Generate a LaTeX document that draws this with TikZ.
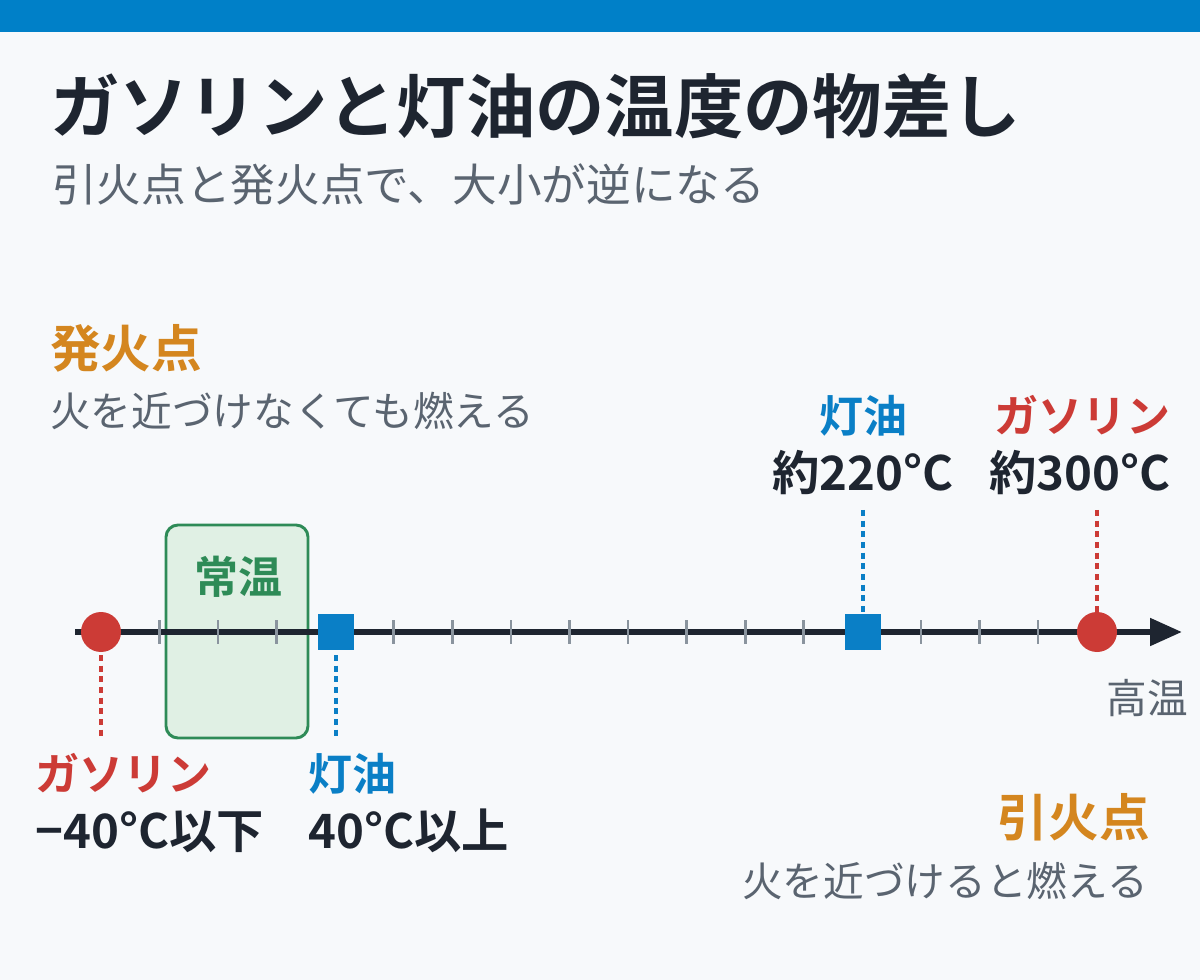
\documentclass[tikz,border=0pt]{standalone}
\usepackage{fontspec}
\setmainfont{Noto Sans CJK JP}[BoldFont={Noto Sans CJK JP Bold}]
\usetikzlibrary{arrows.meta}
\definecolor{bg}{HTML}{F7F9FB}
\definecolor{topbar}{HTML}{0080C8}
\definecolor{ink}{HTML}{1E2530}
\definecolor{gr}{HTML}{5A6470}
\definecolor{org}{HTML}{D4861F}
\definecolor{rd}{HTML}{CC3B36}
\definecolor{bl}{HTML}{0A7FC6}
\definecolor{gn}{HTML}{2E8B57}
\definecolor{gnf}{HTML}{E0F0E4}
\definecolor{tk}{HTML}{8A949E}
\begin{document}
\begin{tikzpicture}[x=0.75pt,y=-0.75pt,
  lab/.style={font=\bfseries\fontsize{33}{35}\selectfont},
  num/.style={font=\bfseries\fontsize{35.5}{37}\selectfont},
  desc/.style={font=\fontsize{30.5}{32}\selectfont,text=gr},
  dots/.style={line width=2.6pt,dash pattern=on 4.5pt off 3.5pt}]
\useasboundingbox (0,0) rectangle (1200,980);
\fill[bg] (0,0) rectangle (1200,980);
\fill[topbar] (0,0) rectangle (1200,32);
\node[anchor=base west,text=ink,font=\bfseries\fontsize{52}{56}\selectfont,inner sep=0] (title) at (50,133) {ガソリンと灯油の温度の物差し};
\node[anchor=base west,desc,font=\fontsize{33.5}{36}\selectfont,inner sep=0] (sub) at (52,202) {引火点と発火点で、大小が逆になる};
\node[anchor=base west,font=\bfseries\fontsize{38}{40}\selectfont,text=org,inner sep=0] (hk) at (50,368) {発火点};
\node[anchor=base west,desc,inner sep=0] (hkd) at (50,427) {火を近づけなくても燃える};
% green box
\draw[gn,line width=2.2pt,fill=gnf,rounded corners=9pt] (166,525) rectangle (308,738);
\node[text=gn,font=\bfseries\fontsize{33}{35}\selectfont] (jo) at (238,577) {常温};
% axis
\coordinate (a0) at (75,632);
\coordinate (a1) at (1182,632);
\draw[ink,line width=4.5pt,-{Triangle[length=24pt,width=20pt]}] (a0) -- (a1);
\foreach \i in {1,2,3,5,6,7,8,9,10,11,12,14,15,16}
  \draw[tk,line width=2pt] ({101+58.5625*\i},620) -- ({101+58.5625*\i},644);
% markers
\coordinate (g1) at (101,632);
\coordinate (k1) at (336,632);
\coordinate (k2) at (863,632);
\coordinate (g2) at (1097,632);
\draw[rd,dots] (101,655) -- (101,740);
\draw[bl,dots] (336,655) -- (336,740);
\draw[bl,dots] (863,510) -- (863,612);
\draw[rd,dots] (1097,510) -- (1097,612);
\fill[rd] (g1) circle (20);
\fill[rd] (g2) circle (20);
\fill[bl] (318,614) rectangle (354,650);
\fill[bl] (845,614) rectangle (881,650);
% labels
\node[anchor=base west,lab,text=rd,inner sep=0] at (35,790) {ガソリン};
\node[anchor=base west,num,text=ink,inner sep=0] at (35,848) {−40°C以下};
\node[anchor=base west,lab,text=bl,inner sep=0] at (308,790) {灯油};
\node[anchor=base west,num,text=ink,inner sep=0] at (308,848) {40°C以上};
\node[anchor=base,lab,text=bl,inner sep=0] at (863,433) {灯油};
\node[anchor=base,num,text=ink,inner sep=0] at (863,490) {約220°C};
\node[anchor=base,lab,text=rd,inner sep=0] at (1082,433) {ガソリン};
\node[anchor=base,num,text=ink,inner sep=0] at (1080,490) {約300°C};
\node[anchor=base,desc,inner sep=0] (ko) at (1147,713) {高温};
\node[anchor=base east,font=\bfseries\fontsize{38}{40}\selectfont,text=org,inner sep=0] (ik) at (1150,836) {引火点};
\node[anchor=base east,desc,inner sep=0] (ikd) at (1148,896) {火を近づけると燃える};
\end{tikzpicture}
\end{document}
